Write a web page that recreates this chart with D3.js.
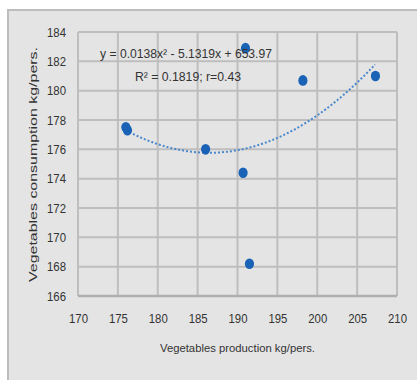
<!DOCTYPE html>
<html>
<head>
<meta charset="utf-8">
<script src="https://cdn.jsdelivr.net/npm/d3@7"></script>
<style>
  html, body { margin: 0; padding: 0; background: #ffffff; }
  svg { display: block; }
  text { font-family: "Liberation Sans", Arial, sans-serif; fill: #333333; }
</style>
</head>
<body>
<svg id="chart" width="417" height="380"></svg>
<script>
// Vegetables production vs consumption, kg per person
const production  = [176.0, 176.2, 186.0, 190.7, 191.0, 191.5, 198.2, 207.3];
const consumption = [177.5, 177.3, 176.0, 174.4, 182.9, 168.2, 180.7, 181.0];
const xTicks = [170, 175, 180, 185, 190, 195, 200, 205, 210];
const yTicks = [166, 168, 170, 172, 174, 176, 178, 180, 182, 184];
const equationText = "y = 0.0138x² - 5.1319x + 653.97";
const fitText = "R² = 0.1819; r=0.43";

const svg = d3.select("#chart");
const W = 417, H = 380;
const plot = { left: 78, right: 397, top: 32, bottom: 296 };

// outer panel
svg.append("rect").attr("x", 8).attr("y", 10).attr("width", W).attr("height", H)
  .attr("fill", "#e4e4e4").attr("stroke", "#bdbdbd").attr("stroke-width", 2);

const x = d3.scaleLinear().domain([170, 210]).range([plot.left, plot.right]);
const y = d3.scaleLinear().domain([166, 184]).range([plot.bottom, plot.top]);

// gridlines
const grid = svg.append("g");
grid.selectAll("line.v").data(xTicks).join("line")
  .attr("x1", d => x(d)).attr("x2", d => x(d))
  .attr("y1", plot.top).attr("y2", plot.bottom)
  .attr("stroke", "#bebebe").attr("stroke-width", 2);
grid.selectAll("line.h").data(yTicks).join("line")
  .attr("x1", plot.left).attr("x2", plot.right)
  .attr("y1", d => y(d)).attr("y2", d => y(d))
  .attr("stroke", d => d === 166 ? "#afafaf" : "#bebebe").attr("stroke-width", d => d === 166 ? 2.4 : 2);

// axis tick labels via d3 axes
const xAxis = svg.append("g").attr("transform", `translate(0,${plot.bottom})`)
  .call(d3.axisBottom(x).tickValues(xTicks).tickSize(0).tickPadding(18));
const yAxis = svg.append("g").attr("transform", `translate(${plot.left},0)`)
  .call(d3.axisLeft(y).tickValues(yTicks).tickSize(0).tickPadding(12));
[xAxis, yAxis].forEach(a => {
  a.select(".domain").remove();
  a.selectAll("text").attr("font-size", 13).attr("fill", "#404040")
    .attr("font-family", "'Liberation Sans', Arial, sans-serif")
    .attr("textLength", 19).attr("lengthAdjust", "spacingAndGlyphs");
});

// quadratic least-squares trendline
function quadFit(xs, ys) {
  const n = xs.length;
  let s = [0, 0, 0, 0, 0], t = [0, 0, 0];
  for (let i = 0; i < n; i++) {
    let p = 1;
    for (let k = 0; k < 5; k++) { s[k] += p; p *= xs[i]; }
    t[0] += ys[i]; t[1] += ys[i] * xs[i]; t[2] += ys[i] * xs[i] * xs[i];
  }
  const M = [[s[0], s[1], s[2], t[0]], [s[1], s[2], s[3], t[1]], [s[2], s[3], s[4], t[2]]];
  for (let c = 0; c < 3; c++) {
    for (let r = c + 1; r < 3; r++) {
      const f = M[r][c] / M[c][c];
      for (let k = c; k < 4; k++) M[r][k] -= f * M[c][k];
    }
  }
  const b = [0, 0, 0];
  for (let r = 2; r >= 0; r--) {
    let v = M[r][3];
    for (let k = r + 1; k < 3; k++) v -= M[r][k] * b[k];
    b[r] = v / M[r][r];
  }
  return xv => b[0] + b[1] * xv + b[2] * xv * xv;
}
const fit = quadFit(production, consumption);
const xs0 = d3.min(production), xs1 = d3.max(production) + 0.2;
const curve = d3.range(xs0, xs1, 0.25).map(v => [v, fit(v)]);
svg.append("path").datum(curve)
  .attr("d", d3.line().x(d => x(d[0])).y(d => y(d[1])))
  .attr("fill", "none").attr("stroke", "#4a88cc").attr("stroke-width", 2)
  .attr("stroke-dasharray", "2,2");

// points
svg.append("g").selectAll("ellipse").data(production.map((p, i) => [p, consumption[i]])).join("ellipse")
  .attr("cx", d => x(d[0])).attr("cy", d => y(d[1]))
  .attr("rx", 4.6).attr("ry", 5.3)
  .attr("fill", "#1a62b6");

// equation labels
svg.append("text").attr("x", 186).attr("y", 58).attr("text-anchor", "middle")
  .attr("font-size", 13).attr("textLength", 172).attr("lengthAdjust", "spacingAndGlyphs")
  .attr("fill", "#404040").text(equationText);
svg.append("text").attr("x", 188).attr("y", 81).attr("text-anchor", "middle")
  .attr("font-size", 13).attr("textLength", 106).attr("lengthAdjust", "spacingAndGlyphs")
  .attr("fill", "#404040").text(fitText);

// axis titles
svg.append("text").attr("x", 237.5).attr("y", 352).attr("text-anchor", "middle")
  .attr("font-size", 11.5).attr("textLength", 155).attr("lengthAdjust", "spacingAndGlyphs")
  .attr("fill", "#404040").text("Vegetables production kg/pers.");
svg.append("text").attr("transform", "translate(37,164.5) rotate(-90)").attr("text-anchor", "middle")
  .attr("font-size", 11.5).attr("textLength", 235).attr("lengthAdjust", "spacingAndGlyphs")
  .attr("fill", "#404040").text("Vegetables consumption kg/pers.");
</script>
</body>
</html>
